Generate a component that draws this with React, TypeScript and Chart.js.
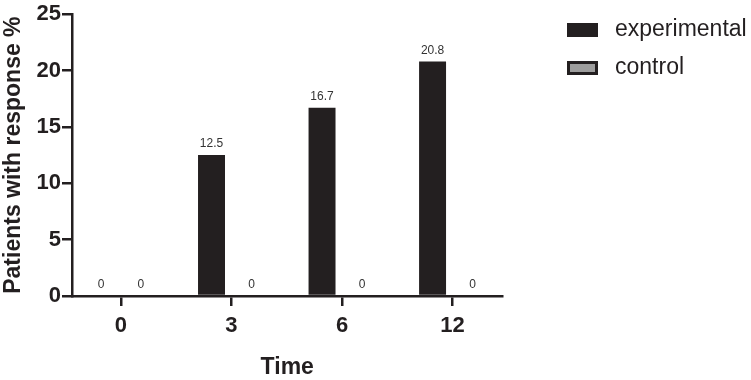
import React, { useEffect, useRef } from "react";
import { Chart, registerables } from "chart.js";

Chart.register(...registerables);

const timeLabels = ["0", "3", "6", "12"];
const seriesNames = ["experimental", "control"];
const experimentalValues = [0, 12.5, 16.7, 20.8];
const controlValues = [0, 0, 0, 0];
const yTicks = [0, 5, 10, 15, 20, 25];

const DARK = "#231f20";
const GRAY = "#9d9d9d";
const FONT = "'Liberation Sans', Arial, Helvetica, sans-serif";

const valueLabelPlugin = {
  id: "valueLabels",
  afterDatasetsDraw(chart: any) {
    const ctx = chart.ctx;
    ctx.save();
    ctx.font = `12px ${FONT}`;
    ctx.fillStyle = "#333333";
    ctx.textAlign = "center";
    ctx.textBaseline = "middle";
    chart.data.datasets.forEach((ds: any, di: number) => {
      const meta = chart.getDatasetMeta(di);
      meta.data.forEach((el: any, i: number) => {
        const v = ds.data[i].y;
        ctx.fillText(String(v), el.x, el.y - 11);
      });
    });
    ctx.restore();
  },
};

const legendPlugin = {
  id: "customLegend",
  afterDraw(chart: any) {
    const ctx = chart.ctx;
    ctx.save();
    const bx = 567;
    const bw = 31;
    const bh = 14;
    const rows = [23, 61];
    ctx.font = `23px ${FONT}`;
    ctx.textAlign = "left";
    ctx.textBaseline = "middle";
    rows.forEach((y, i) => {
      ctx.fillStyle = DARK;
      ctx.fillRect(bx, y, bw, bh);
      if (i === 1) {
        ctx.fillStyle = GRAY;
        ctx.fillRect(bx + 3, y + 3, bw - 6, bh - 6);
      }
      ctx.fillStyle = DARK;
      ctx.fillText(seriesNames[i], 615, y + bh / 2);
    });
    ctx.restore();
  },
};

export default function App() {
  const ref = useRef<HTMLCanvasElement | null>(null);
  useEffect(() => {
    if (!ref.current) return;
    const chart = new Chart(ref.current, {
      type: "bar",
      data: {
        datasets: [
          {
            label: seriesNames[0],
            data: experimentalValues.map((v, i) => ({ x: i, y: v })),
            backgroundColor: DARK,
            borderWidth: 0,
            categoryPercentage: 0.723,
            barPercentage: 0.675,
          },
          {
            label: seriesNames[1],
            data: controlValues.map((v, i) => ({ x: i, y: v })),
            backgroundColor: GRAY,
            borderWidth: 0,
            categoryPercentage: 0.723,
            barPercentage: 0.675,
          },
        ],
      } as any,
      options: {
        responsive: false,
        animation: false,
        layout: { padding: { left: 0, top: 10, right: 248.5, bottom: 0 } },
        plugins: { legend: { display: false }, tooltip: { enabled: false } },
        scales: {
          x: {
            type: "linear",
            offset: false,
            min: -0.443,
            max: 3.452,
            afterBuildTicks: (scale: any) => {
              scale.ticks = timeLabels.map((_, i) => ({ value: i }));
            },
            afterFit: (scale: any) => {
              scale.height = 84;
            },
            ticks: {
              autoSkip: false,
              maxRotation: 0,
              padding: 7,
              color: DARK,
              font: { family: FONT, size: 22, weight: "bold" },
              callback: (v: any) => timeLabels[v] ?? "",
            },
            grid: {
              display: true,
              offset: false,
              drawOnChartArea: false,
              drawTicks: true,
              tickLength: 10,
              tickWidth: 2.5,
              tickColor: DARK,
              color: DARK,
              lineWidth: 2.5,
            },
            border: { display: true, color: DARK, width: 2.5 },
            title: {
              display: true,
              text: "Time",
              color: DARK,
              font: { family: FONT, size: 23, weight: "bold", lineHeight: 1 },
              padding: { top: 1, bottom: 1 },
            },
          },
          y: {
            min: 0,
            max: 25,
            afterBuildTicks: (scale: any) => {
              scale.ticks = yTicks.map((v) => ({ value: v }));
            },
            afterFit: (scale: any) => {
              scale.width = 72;
            },
            ticks: {
              padding: 1,
              color: DARK,
              font: { family: FONT, size: 22, weight: "bold" },
            },
            grid: {
              display: true,
              drawOnChartArea: false,
              drawTicks: true,
              tickLength: 10,
              tickWidth: 2.5,
              tickColor: DARK,
              color: DARK,
              lineWidth: 2.5,
            },
            border: { display: true, color: DARK, width: 2.5 },
            title: {
              display: true,
              text: "Patients with response %",
              color: DARK,
              font: { family: FONT, size: 23, weight: "bold", lineHeight: 1 },
              padding: { top: 2, bottom: 0 },
            },
          },
        },
      } as any,
      plugins: [valueLabelPlugin, legendPlugin],
    });
    return () => chart.destroy();
  }, []);
  return (
    <div style={{ position: "fixed", left: 0, top: 0, width: 751, height: 380, background: "#fff" }}>
      <canvas ref={ref} width={751} height={380} style={{ display: "block" }} />
    </div>
  );
}
